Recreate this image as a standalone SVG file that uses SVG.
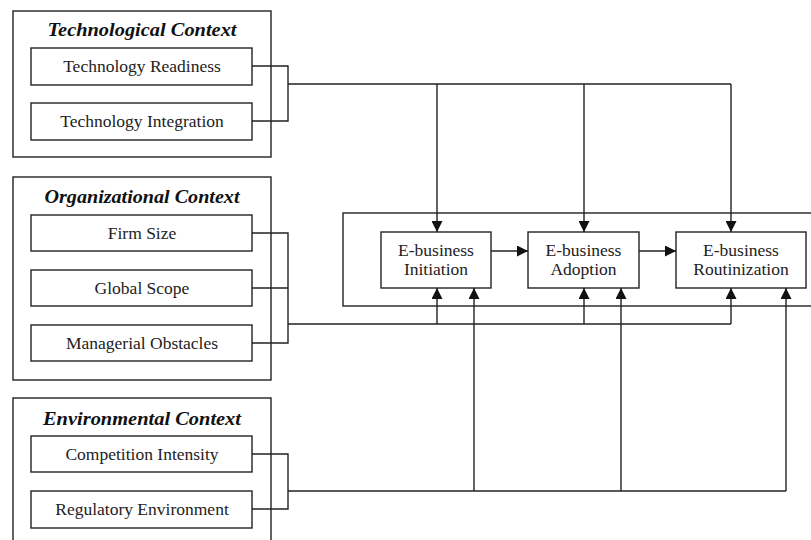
<svg xmlns="http://www.w3.org/2000/svg" width="811" height="540" viewBox="0 0 811 540">
  <style>
    .box { fill: #ffffff; stroke: #222222; stroke-width: 1.4; }
    .frame { fill: none; stroke: #222222; stroke-width: 1.4; }
    .wire { fill: none; stroke: #222222; stroke-width: 1.4; }
    .title { font-family: "Liberation Serif", "Times New Roman", serif; font-size: 19px; font-weight: bold; font-style: italic; fill: #111111; text-anchor: middle; }
    .label { font-family: "Liberation Serif", "Times New Roman", serif; font-size: 17.5px; fill: #222222; text-anchor: middle; }
  </style>
  <defs>
    <marker id="arrow" viewBox="0 0 10 10" refX="10" refY="5" markerWidth="11" markerHeight="11" markerUnits="userSpaceOnUse" orient="auto">
      <path d="M0,0 L10,5 L0,10 z" fill="#111111"/>
    </marker>
  </defs>
  <rect width="811" height="540" fill="#ffffff"/>

  <!-- Technological context -->
  <g id="technological-context">
    <rect class="frame" x="13" y="11" width="258" height="146"/>
    <text class="title" x="142" y="36" textLength="189" lengthAdjust="spacingAndGlyphs">Technological Context</text>
  </g>
  <g id="technology-readiness">
    <rect class="box" x="31" y="48" width="221" height="37"/>
    <text class="label" x="142" y="72">Technology Readiness</text>
  </g>
  <g id="technology-integration">
    <rect class="box" x="31" y="103" width="221" height="37"/>
    <text class="label" x="142" y="127">Technology Integration</text>
  </g>

  <!-- Organizational context -->
  <g id="organizational-context">
    <rect class="frame" x="13" y="177" width="258" height="203"/>
    <text class="title" x="142" y="203" textLength="195" lengthAdjust="spacingAndGlyphs">Organizational Context</text>
  </g>
  <g id="firm-size">
    <rect class="box" x="31" y="215" width="221" height="36"/>
    <text class="label" x="142" y="239">Firm Size</text>
  </g>
  <g id="global-scope">
    <rect class="box" x="31" y="270" width="221" height="36"/>
    <text class="label" x="142" y="294">Global Scope</text>
  </g>
  <g id="managerial-obstacles">
    <rect class="box" x="31" y="325" width="221" height="36"/>
    <text class="label" x="142" y="349">Managerial Obstacles</text>
  </g>

  <!-- Environmental context -->
  <g id="environmental-context">
    <rect class="frame" x="13" y="398" width="258" height="150"/>
    <text class="title" x="142" y="425" textLength="198" lengthAdjust="spacingAndGlyphs">Environmental Context</text>
  </g>
  <g id="competition-intensity">
    <rect class="box" x="31" y="436" width="221" height="36"/>
    <text class="label" x="142" y="460">Competition Intensity</text>
  </g>
  <g id="regulatory-environment">
    <rect class="box" x="31" y="491" width="221" height="37"/>
    <text class="label" x="142" y="515">Regulatory Environment</text>
  </g>

  <!-- E-business stages -->
  <g id="stages">
    <rect class="frame" x="343" y="213" width="480" height="93"/>
  </g>
  <g id="initiation">
    <rect class="box" x="381" y="232" width="110" height="56"/>
    <text class="label" x="436" y="256">E-business</text>
    <text class="label" x="436" y="275">Initiation</text>
  </g>
  <g id="adoption">
    <rect class="box" x="528" y="232" width="111" height="56"/>
    <text class="label" x="583.5" y="256">E-business</text>
    <text class="label" x="583.5" y="275">Adoption</text>
  </g>
  <g id="routinization">
    <rect class="box" x="676" y="232" width="130" height="56"/>
    <text class="label" x="741" y="256">E-business</text>
    <text class="label" x="741" y="275">Routinization</text>
  </g>

  <!-- Connectors -->
  <g id="connectors" class="wire">
    <!-- technological bracket and drops -->
    <path d="M252,66 H288 V121 H252"/>
    <path d="M288,84 H731"/>
    <path d="M437,84 V232" marker-end="url(#arrow)"/>
    <path d="M584,84 V232" marker-end="url(#arrow)"/>
    <path d="M731,84 V232" marker-end="url(#arrow)"/>

    <!-- organizational bracket and risers -->
    <path d="M252,233 H288 V343 H252"/>
    <path d="M252,288 H288"/>
    <path d="M288,324 H731"/>
    <path d="M437,324 V288" marker-end="url(#arrow)"/>
    <path d="M584,324 V288" marker-end="url(#arrow)"/>
    <path d="M731,324 V288" marker-end="url(#arrow)"/>

    <!-- environmental bracket and risers -->
    <path d="M252,454 H288 V509 H252"/>
    <path d="M288,491 H786"/>
    <path d="M474,491 V288" marker-end="url(#arrow)"/>
    <path d="M621,491 V288" marker-end="url(#arrow)"/>
    <path d="M786,491 V288" marker-end="url(#arrow)"/>

    <!-- stage sequence -->
    <path d="M491,251 H528" marker-end="url(#arrow)"/>
    <path d="M639,251 H676" marker-end="url(#arrow)"/>
  </g>
</svg>
